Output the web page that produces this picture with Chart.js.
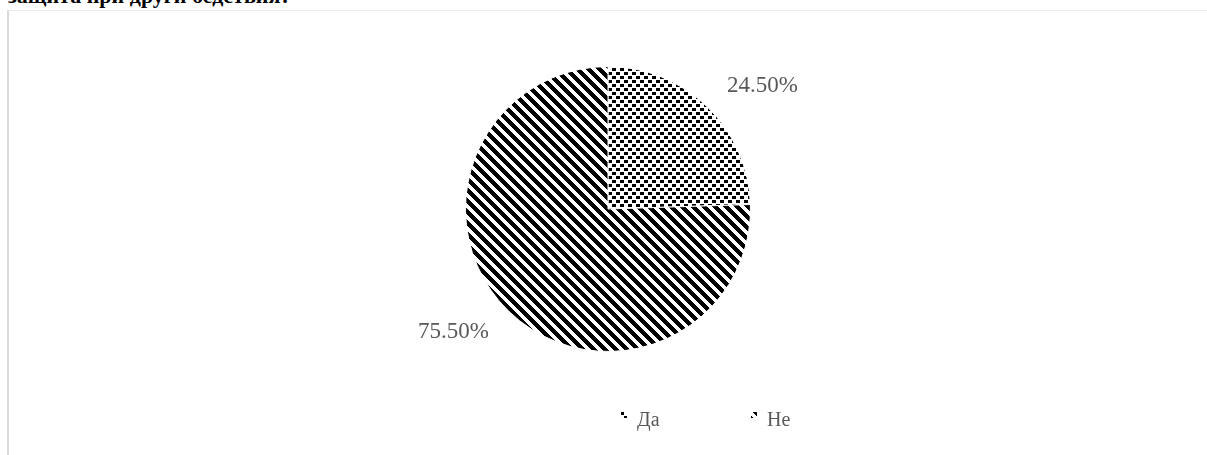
<!DOCTYPE html>
<html>
<head>
<meta charset="utf-8">
<script src="https://cdn.jsdelivr.net/npm/chart.js@4/dist/chart.umd.min.js"></script>
<style>
  html, body { margin: 0; padding: 0; background: #fff; }
  #wrap { position: relative; width: 1207px; height: 455px; overflow: hidden; }
  #heading {
    position: absolute; left: 8px; top: -17px;
    font: bold 22px "Liberation Serif", "Times New Roman", serif;
    color: #000; white-space: nowrap;
  }
  #frame {
    position: absolute; left: 7px; top: 10px; right: 0; bottom: 0;
    border-left: 2px solid #d9d9d9; border-top: 1px solid #ebebeb;
    background: #fff;
  }
  canvas { position: absolute; left: 0; top: 0; }
</style>
</head>
<body>
<div id="wrap">
  <div id="heading">защита при други бедствия?</div>
  <div id="frame"></div>
  <canvas id="c" width="1207" height="455"></canvas>
</div>
<script>
// Answers and their shares (percent)
const categories = ['Да', 'Не'];
const shares = [24.5, 75.5];
const valueLabels = ['24.50%', '75.50%'];

// Black-and-white fill patterns: staggered dots and backslash stripes
function dotPattern(ctx) {
  const t = document.createElement('canvas');
  t.width = 8; t.height = 8;
  const g = t.getContext('2d');
  g.fillStyle = '#fff'; g.fillRect(0, 0, 8, 8);
  g.fillStyle = '#000';
  g.fillRect(0, 0, 4, 3);
  g.fillRect(4, 4, 4, 3);
  return ctx.createPattern(t, 'repeat');
}
function stripePattern(ctx) {
  const n = 11;
  const t = document.createElement('canvas');
  t.width = n; t.height = n;
  const g = t.getContext('2d');
  const img = g.createImageData(n, n);
  for (let y = 0; y < n; y++) {
    for (let x = 0; x < n; x++) {
      const on = (((x - y) % n) + n) % n < 5.5;
      const i = (y * n + x) * 4;
      const v = on ? 0 : 255;
      img.data[i] = v; img.data[i + 1] = v; img.data[i + 2] = v; img.data[i + 3] = 255;
    }
  }
  g.putImageData(img, 0, 0);
  return ctx.createPattern(t, 'repeat');
}

const canvas = document.getElementById('c');
const ctx = canvas.getContext('2d');
const fills = [dotPattern(ctx), stripePattern(ctx)];

// Percent labels placed just outside each slice along its middle angle
const sliceLabels = {
  id: 'sliceLabels',
  afterDatasetsDraw(chart) {
    const c = chart.ctx;
    const meta = chart.getDatasetMeta(0);
    c.save();
    c.font = '23px "Liberation Serif", "Times New Roman", serif';
    c.fillStyle = '#595959';
    c.textBaseline = 'middle';
    meta.data.forEach((arc, i) => {
      const p = arc.getProps(['x', 'y', 'startAngle', 'endAngle', 'outerRadius'], true);
      const mid = (p.startAngle + p.endAngle) / 2;
      const d = p.outerRadius * 1.2;
      const x = p.x + Math.cos(mid) * d;
      const y = p.y + Math.sin(mid) * d;
      c.textAlign = Math.cos(mid) >= 0 ? 'left' : 'right';
      c.fillText(valueLabels[i], x, y);
    });
    c.restore();
  }
};

// Legend row under the pie
const legendRow = {
  id: 'legendRow',
  afterDraw(chart) {
    const c = chart.ctx;
    const items = [{ x: 621 }, { x: 751 }];
    c.save();
    c.font = '20px "Liberation Serif", "Times New Roman", serif';
    c.textBaseline = 'middle';
    c.textAlign = 'left';
    chart.data.labels.forEach((lab, i) => {
      const bx = items[i].x;
      c.fillStyle = chart.data.datasets[0].backgroundColor[i];
      c.fillRect(bx, 412, 6, 6);
      c.fillStyle = '#595959';
      c.fillText(lab, bx + 16, 421);
    });
    c.restore();
  }
};

new Chart(ctx, {
  type: 'pie',
  data: {
    labels: categories,
    datasets: [{
      data: shares,
      backgroundColor: fills,
      borderColor: '#ffffff',
      borderWidth: 1
    }]
  },
  options: {
    responsive: false,
    animation: false,
    layout: { padding: { left: 465, right: 456, top: 66, bottom: 103 } },
    plugins: {
      legend: { display: false },
      tooltip: { enabled: false }
    }
  },
  plugins: [sliceLabels, legendRow]
});
</script>
</body>
</html>
